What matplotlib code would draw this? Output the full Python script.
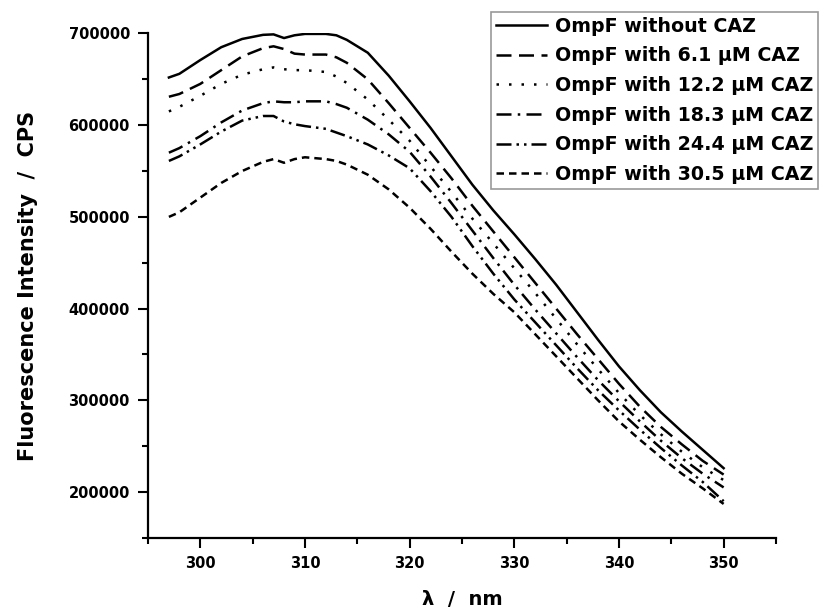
import matplotlib
matplotlib.use("Agg")
import matplotlib.pyplot as plt
from matplotlib.ticker import MultipleLocator

plt.rcParams['font.family'] = ['DejaVu Sans']
plt.rcParams['font.weight'] = 'bold'

# wavelength (nm)
wavelength = [297, 298, 300, 302, 304, 306, 307, 308, 309, 310, 312, 313, 314, 316, 318,
              320, 322, 324, 326, 328, 330, 332, 334, 336, 338, 340, 342, 344, 346, 348, 350]

# intensities in thousands of CPS
no_caz = [652, 656, 671, 685, 694, 698.5, 699, 695, 698, 699.5, 699.5, 698, 693, 679, 654,
          626, 597, 566, 535, 507, 481, 454, 426, 396, 366, 337, 311, 287, 266, 246, 226]
caz_6_1 = [631, 634, 645, 660, 675, 684, 686, 683, 678, 677, 677, 674, 668, 650, 624,
           597, 570, 542, 512, 484, 456, 428, 400, 372, 345, 318, 293, 271, 252, 234, 219]
caz_12_2 = [615, 620, 632, 645, 655, 661, 663, 661, 660, 660, 658, 653, 646, 628, 606,
            583, 555, 527, 498, 471, 444, 417, 389, 361, 334, 308, 284, 263, 244, 227, 213]
caz_18_3 = [570, 575, 588, 603, 616, 624, 626, 625, 625, 626, 626, 623, 619, 606, 590,
            571, 544, 515, 485, 455, 426, 399, 373, 347, 322, 299, 277, 256, 237, 220, 205]
caz_24_4 = [561, 566, 579, 593, 605, 610, 610, 604, 601, 599, 596, 592, 588, 579, 567,
            553, 528, 500, 468, 438, 410, 385, 360, 335, 311, 289, 268, 248, 229, 211, 190]
caz_30_5 = [500, 505, 521, 537, 550, 560, 563, 559, 563, 565, 563, 561, 557, 546, 530,
            510, 487, 462, 438, 416, 396, 372, 348, 324, 300, 277, 257, 238, 220, 204, 187]

labels = ["OmpF without CAZ",
          "OmpF with 6.1 \u03bcM CAZ",
          "OmpF with 12.2 \u03bcM CAZ",
          "OmpF with 18.3 \u03bcM CAZ",
          "OmpF with 24.4 \u03bcM CAZ",
          "OmpF with 30.5 \u03bcM CAZ"]

series = [no_caz, caz_6_1, caz_12_2, caz_18_3, caz_24_4, caz_30_5]
styles = ['-', (0, (6, 3)), (0, (1, 4)), (0, (6, 2.5, 1, 2.5)),
          (0, (6, 2, 1, 2, 1, 2)), (0, (3, 2))]

fig = plt.figure(figsize=(8.22, 6.14), dpi=100)
ax = fig.add_axes([0.180, 0.124, 0.764, 0.8215])

for vals, ls, lab in zip(series, styles, labels):
    ax.plot(wavelength, [v * 1000 for v in vals], color='black', lw=1.8, linestyle=ls, label=lab)

ax.set_xlim(295, 355)
ax.set_ylim(150000, 700000)
ax.xaxis.set_minor_locator(MultipleLocator(5))
ax.yaxis.set_minor_locator(MultipleLocator(50000))
ax.set_xticks([300, 310, 320, 330, 340, 350])
ax.set_yticks([200000, 300000, 400000, 500000, 600000, 700000])

ax.spines['top'].set_visible(False)
ax.spines['right'].set_visible(False)
for s in ['left', 'bottom']:
    ax.spines[s].set_linewidth(1.6)
ax.tick_params(which='major', direction='out', length=7, width=1.5, labelsize=10.5, pad=6)
ax.tick_params(which='minor', direction='out', length=4, width=1.5)

ax.set_xlabel("\u03bb  /  nm", fontsize=14, fontweight='bold', labelpad=14)
ax.set_ylabel("Fluorescence Intensity  /  CPS", fontsize=15, fontweight='bold', labelpad=22)

leg = fig.legend(loc='upper left', bbox_to_anchor=(491 / 822, 1 - 12 / 614),
                 bbox_transform=fig.transFigure, fontsize=13.7, handlelength=2.7,
                 handletextpad=0.4, labelspacing=0.56, borderpad=0.25,
                 borderaxespad=0, fancybox=False, framealpha=1)
leg.get_frame().set_edgecolor('#999999')
leg.get_frame().set_linewidth(1.2)

fig.savefig("out.png", dpi=100)
